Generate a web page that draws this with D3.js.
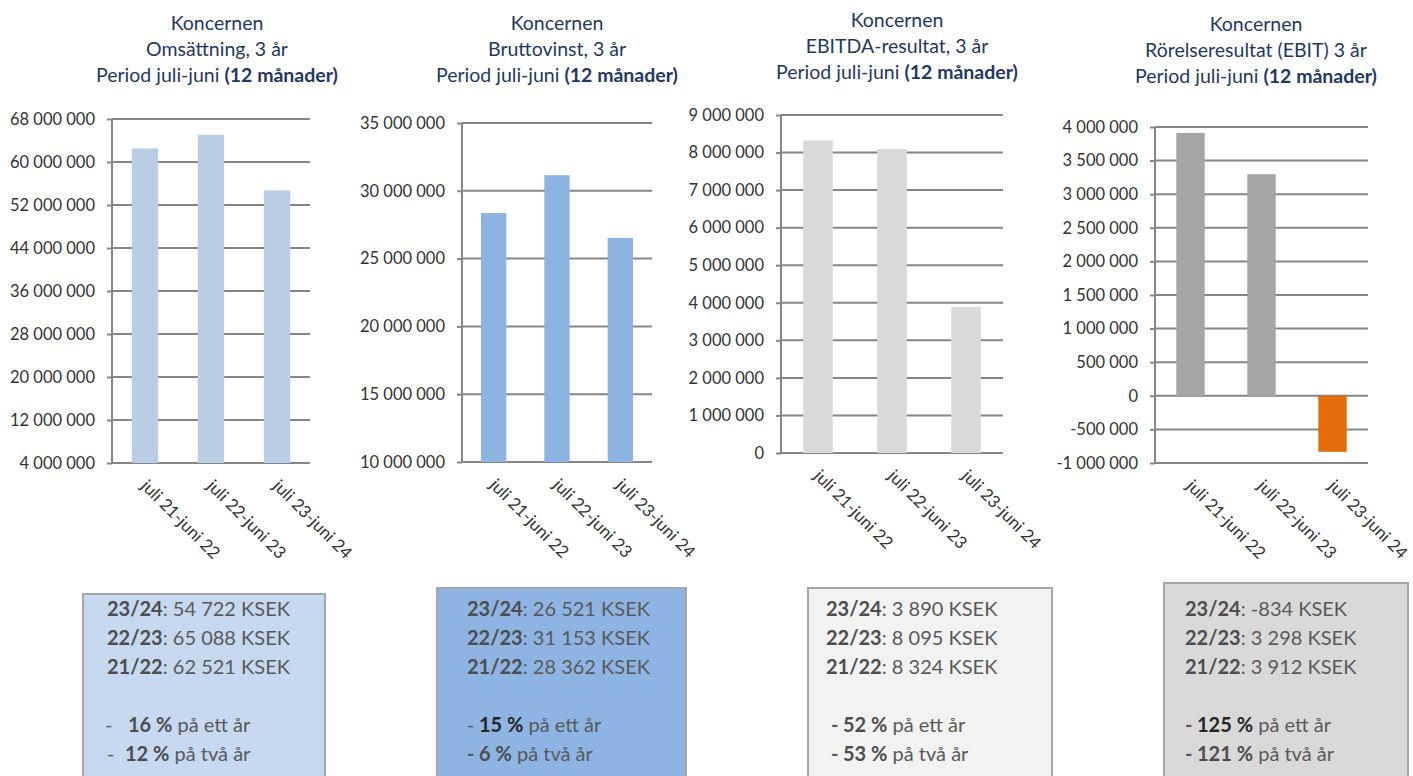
<!DOCTYPE html>
<html><head><meta charset="utf-8">
<script src="https://cdn.jsdelivr.net/npm/d3@7"></script>
<style>body{margin:0;background:#fff;} svg{display:block;font-family:Lato, "Open Sans", sans-serif;}</style>
</head><body><svg id="c" width="1413" height="776"></svg>
<script>
// ---- data ----
const categories = ["juli 21-juni 22", "juli 22-juni 23", "juli 23-juni 24"];
const omsattning = [62521000, 65088000, 54722000];
const bruttovinst = [28362000, 31153000, 26521000];
const ebitda = [8324000, 8095000, 3890000];
const ebit = [3912000, 3298000, -834000];

const ticksOmsattning = [4000000, 12000000, 20000000, 28000000, 36000000, 44000000, 52000000, 60000000, 68000000];
const ticksBruttovinst = [10000000, 15000000, 20000000, 25000000, 30000000, 35000000];
const ticksEbitda = [0, 1000000, 2000000, 3000000, 4000000, 5000000, 6000000, 7000000, 8000000, 9000000];
const ticksEbit = [-1000000, -500000, 0, 500000, 1000000, 1500000, 2000000, 2500000, 3000000, 3500000, 4000000];

const titleLine1 = "Koncernen";
const titleLine2 = ["Omsättning, 3 år", "Bruttovinst, 3 år", "EBITDA-resultat, 3 år", "Rörelseresultat (EBIT) 3 år"];
const titleLine3 = "Period juli-juni ";
const titleLine3Bold = "(12 månader)";

const boxPeriods = ["23/24", "22/23", "21/22"];
const boxPeriodIndex = [2, 1, 0];
const changeOneYear = ["16 %", "15 %", "52 %", "125 %"];
const changeTwoYears = ["12 %", "6 %", "53 %", "121 %"];

// ---- layout / style ----
const charts = [
  {values: omsattning, ticks: ticksOmsattning, color: "#B9CDE5", left: 112, right: 310, top: 119, bottom: 463, titleX: 217, titleY: 30,
   box: {x: 83, y: 594, w: 242, fill: "#C6D9F1", tx: 107, d1: 105, n1: 128, d2: 107, n2: 125}},
  {values: bruttovinst, ticks: ticksBruttovinst, color: "#8EB4E3", left: 462, right: 652, top: 123, bottom: 462, titleX: 557, titleY: 30,
   box: {x: 437, y: 588, w: 249, fill: "#8EB4E3", tx: 467, d1: 467, n1: 479, d2: 467, n2: 479}},
  {values: ebitda, ticks: ticksEbitda, color: "#D9D9D9", left: 781, right: 1003, top: 115, bottom: 453, titleX: 897, titleY: 27,
   box: {x: 808, y: 588, w: 244, fill: "#F2F2F2", tx: 826, d1: 831, n1: 843, d2: 831, n2: 843}},
  {values: ebit, ticks: ticksEbit, color: "#A6A6A6", neg: "#E46C0A", left: 1155, right: 1368, top: 127, bottom: 463, titleX: 1256, titleY: 31,
   box: {x: 1164, y: 583, w: 244, fill: "#D9D9D9", tx: 1185, d1: 1185, n1: 1197, d2: 1185, n2: 1197}}
];

const loc = d3.formatLocale({decimal: ",", thousands: " ", grouping: [3], currency: ["", ""], minus: "-"});
const fmt = loc.format(",");

const svg = d3.select("#c");
const gridColor = "#868686";

charts.forEach((c, ci) => {
  const y = d3.scaleLinear().domain([c.ticks[0], c.ticks[c.ticks.length - 1]]).range([c.bottom, c.top]);
  const x = d3.scaleBand().domain(categories).range([c.left, c.right]).paddingInner(0.6).paddingOuter(0.3);
  const g = svg.append("g");

  // title
  const t = g.append("text").attr("text-anchor", "middle").attr("fill", "#1F3864").style("font-size", "19.5px");
  t.append("tspan").attr("x", c.titleX).attr("y", c.titleY).text(titleLine1);
  t.append("tspan").attr("x", c.titleX).attr("y", c.titleY + 26).text(titleLine2[ci]);
  const l3 = t.append("tspan").attr("x", c.titleX).attr("y", c.titleY + 52);
  l3.append("tspan").text(titleLine3);
  l3.append("tspan").attr("font-weight", "bold").text(titleLine3Bold);

  // gridlines
  g.append("g").selectAll("line").data(c.ticks).join("line")
    .attr("x1", c.left).attr("x2", c.right)
    .attr("y1", d => y(d)).attr("y2", d => y(d))
    .attr("stroke", gridColor).attr("stroke-width", 2);

  // y axis
  const ax = g.append("g").attr("transform", `translate(${c.left},0)`)
    .call(d3.axisLeft(y).tickValues(c.ticks).tickSize(5).tickPadding(12).tickFormat(fmt));
  ax.select(".domain").remove();
  ax.selectAll(".tick line").attr("stroke", gridColor).attr("stroke-width", 2);
  ax.selectAll(".tick text").attr("fill", "#333").style("font-size", "16.5px").style("font-family", "Lato, sans-serif");
  g.append("line").attr("x1", c.left).attr("x2", c.left).attr("y1", c.top).attr("y2", c.bottom)
    .attr("stroke", gridColor).attr("stroke-width", 2);

  // bars
  const z = y(Math.max(0, c.ticks[0]));
  g.append("g").selectAll("rect").data(c.values).join("rect")
    .attr("x", (d, i) => x(categories[i]))
    .attr("width", x.bandwidth())
    .attr("y", d => Math.min(y(d), z))
    .attr("height", d => Math.abs(y(d) - z))
    .attr("fill", d => d < 0 ? c.neg : c.color);

  // x labels
  g.append("g").selectAll("text").data(categories).join("text")
    .attr("transform", d => `translate(${x(d) + x.bandwidth() / 2 - 5},${c.bottom + 24}) rotate(45)`)
    .attr("text-anchor", "start").attr("fill", "#333").style("font-size", "17px")
    .text(d => d);

  // info box
  const b = c.box;
  g.append("rect").attr("x", b.x).attr("y", b.y).attr("width", b.w).attr("height", 200)
    .attr("fill", b.fill).attr("stroke", "#A6A6A6").attr("stroke-width", 2);
  const tg = g.append("g").style("font-size", "20px").attr("fill", "#595959");
  boxPeriods.forEach((p, k) => {
    const v = c.values[boxPeriodIndex[k]] / 1000;
    const tx = tg.append("text").attr("x", b.tx).attr("y", 616 + k * 29);
    tx.append("tspan").attr("font-weight", "bold").attr("fill", "#4D4D4D").text(p);
    tx.append("tspan").text(": " + fmt(v) + " KSEK");
  });
  [[changeOneYear[ci], " på ett år", b.d1, b.n1], [changeTwoYears[ci], " på två år", b.d2, b.n2]].forEach((r, k) => {
    const yy = 732 + k * 29;
    const tx = tg.append("text").attr("y", yy);
    tx.append("tspan").attr("x", r[2]).attr("font-weight", ci >= 2 || (ci === 1 && k === 1) ? "bold" : "normal").text("-");
    tx.append("tspan").attr("x", r[3]).attr("font-weight", "bold").attr("fill", (ci === 1 && k === 0) || (ci === 3 && k === 0) ? "#262626" : "#4D4D4D").text(r[0]);
    tx.append("tspan").text(r[1]);
  });
});
</script></body></html>
